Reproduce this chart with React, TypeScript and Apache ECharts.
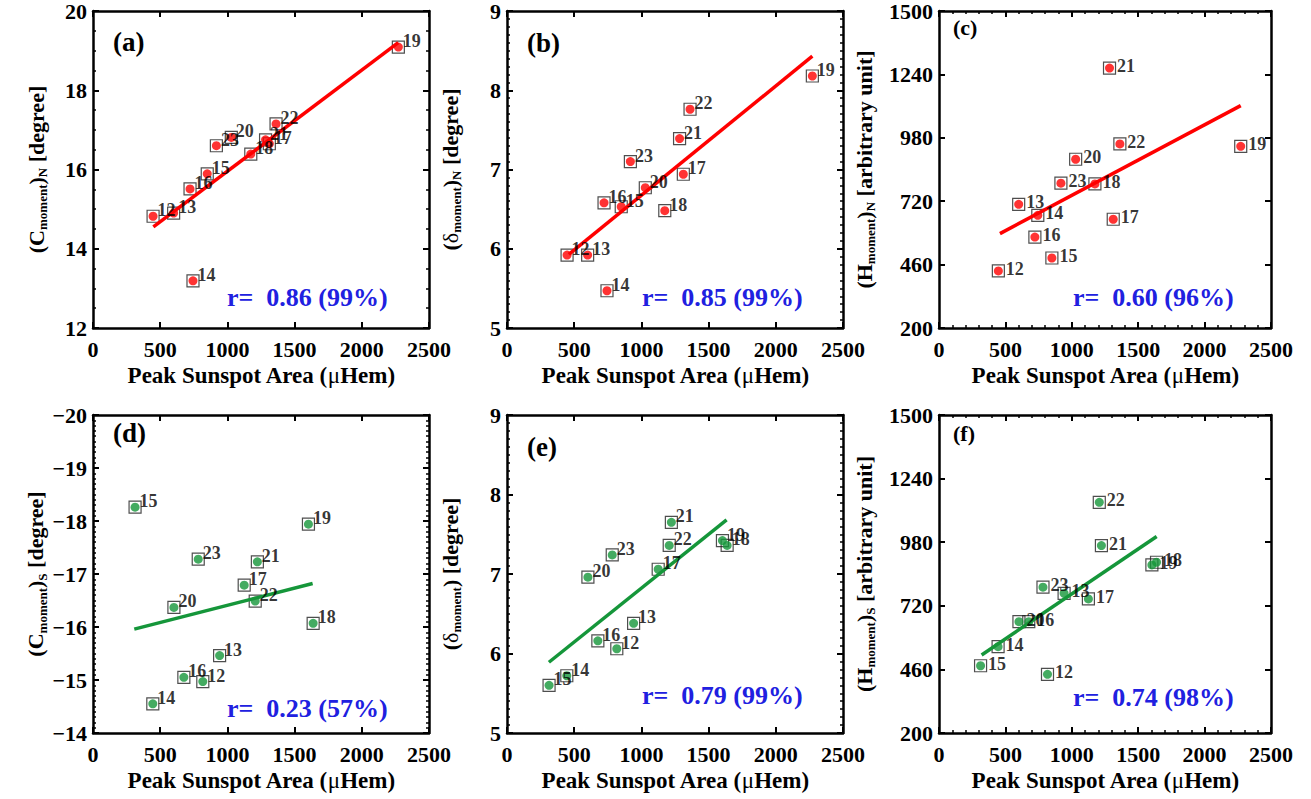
import React, { useEffect, useRef } from "react";
import * as echarts from "echarts";

// ---------- data ----------
const cycles = [12, 13, 14, 15, 16, 17, 18, 19, 20, 21, 22, 23];

// peak sunspot area (µHem), northern / southern hemisphere
const areaN = [447, 600, 744, 850, 722, 1312, 1174, 2272, 1029, 1284, 1362, 918];
const areaS = [817, 942, 445, 313, 676, 1125, 1638, 1603, 602, 1223, 1207, 783];

const cMomentN = [14.82, 14.9, 13.19, 15.89, 15.51, 16.65, 16.39, 19.09, 16.81, 16.75, 17.15, 16.6];
const deltaMomentN = [5.92, 5.92, 5.47, 6.53, 6.58, 6.94, 6.48, 8.18, 6.77, 7.39, 7.76, 7.1];
const hMomentN = [434, 707, 662, 487, 573, 646, 791, 945, 892, 1266, 955, 794];

const cMomentS = [-14.97, -15.46, -14.55, -18.26, -15.05, -16.79, -16.07, -17.94, -16.37, -17.23, -16.49, -17.28];
const deltaMomentS = [6.06, 6.38, 5.72, 5.6, 6.16, 7.06, 7.36, 7.42, 6.96, 7.65, 7.36, 7.24];
const hMomentS = [440, 771, 553, 475, 655, 748, 898, 887, 655, 966, 1143, 796];

// fitted straight lines (end points)
const fitCN = [[449, 14.55], [2271, 19.2]];
const fitDeltaN = [[460, 5.93], [2272, 8.43]];
const fitHN = [[459, 587], [2272, 1112]];
const fitCS = [[307, -15.96], [1634, -16.82]];
const fitDeltaS = [[312, 5.89], [1634, 7.68]];
const fitHS = [[321, 519], [1639, 1003]];

const rTexts = [
  "r=\u00a0\u00a00.86 (99%)",
  "r=\u00a0\u00a00.85 (99%)",
  "r=\u00a0\u00a00.60 (96%)",
  "r=\u00a0\u00a00.23 (57%)",
  "r=\u00a0\u00a00.79 (99%)",
  "r=\u00a0\u00a00.74 (98%)",
];
const panelTags = ["(a)", "(b)", "(c)", "(d)", "(e)", "(f)"];
const hTicks = [200, 460, 720, 980, 1240, 1500];

// ---------- styling / layout ----------
const FONT = "Liberation Serif";
const RED = "#ff0000";
const GREEN = "#15963a";
const BLUE = "#2020e0";

const panels = [
  { area: areaN, val: cMomentN, fit: fitCN, color: RED, left: 93, top: 10, width: 336,
    min: 12, max: 20, interval: 2, yMinor: 4, title: "{b|(C}{s|moment}{b|)}{s|N}{b| [degree]}", gap: 44,
    labDist: 0, labOff: [0, -6], tagX: 113, tagY: 42, tagSize: 27, rX: 227, rY: 297 },
  { area: areaN, val: deltaMomentN, fit: fitDeltaN, color: RED, left: 507, top: 10, width: 336,
    min: 5, max: 9, interval: 1, yMinor: 10, title: "{b|(}{g|δ}{s|moment}{b|)}{s|N}{b| [degree]}", gap: 44,
    labDist: 0, labOff: [0, -6], tagX: 527, tagY: 43, tagSize: 27, rX: 642, rY: 297 },
  { area: areaN, val: hMomentN, fit: fitHN, color: RED, left: 939, top: 10, width: 332,
    min: 200, max: 1500, custom: hTicks, title: "{b|(H}{s|moment}{b|)}{s|N}{b| [arbitrary unit]}", gap: 62,
    xMinor: true, labDist: 3, labOff: [0, -2], tagX: 953, tagY: 27, tagSize: 22, rX: 1073, rY: 297 },
  { area: areaS, val: cMomentS, fit: fitCS, color: GREEN, left: 93, top: 415, width: 336,
    min: -20, max: -14, interval: 1, yMinor: 10, inverse: true, title: "{b|(C}{s|moment}{b|)}{s|S}{b| [degree]}", gap: 44,
    labDist: 0, labOff: [0, -6], tagX: 113, tagY: 433, tagSize: 27, rX: 227, rY: 708 },
  { area: areaS, val: deltaMomentS, fit: fitDeltaS, color: GREEN, left: 507, top: 415, width: 336,
    min: 5, max: 9, interval: 1, yMinor: 10, title: "{b|(}{g|δ}{s|moment}{b|) [degree]}", gap: 44,
    labDist: 0, labOff: [0, -6], tagX: 527, tagY: 447, tagSize: 27, rX: 642, rY: 695 },
  { area: areaS, val: hMomentS, fit: fitHS, color: GREEN, left: 939, top: 415, width: 332,
    min: 200, max: 1500, custom: hTicks, title: "{b|(H}{s|moment}{b|)}{s|S}{b| [arbitrary unit]}", gap: 62,
    xMinor: true, labDist: 3, labOff: [0, -2], tagX: 953, tagY: 433, tagSize: 22, rX: 1073, rY: 697 },
];

const PANEL_H = 318;

const numFmt = (v: number) => (v < 0 ? "\u2212" + Math.abs(v) : String(v));

function buildOption() {
  const grid: any[] = [];
  const xAxis: any[] = [];
  const yAxis: any[] = [];
  const series: any[] = [];
  const graphic: any[] = [];

  const line = { show: true, onZero: false, lineStyle: { color: "#000", width: 2.5 } };
  const tick = { show: true, inside: true, length: 6, lineStyle: { color: "#000", width: 2 } };

  panels.forEach((p, i) => {
    grid.push({ left: p.left, top: p.top, width: p.width, height: PANEL_H, containLabel: false });

    const xBase = {
      type: "value", gridIndex: i, min: 0, max: 2500, interval: 500,
      splitLine: { show: false }, axisLine: line, axisTick: tick,
      minorTick: { show: !!p.xMinor, splitNumber: 5, length: 3, lineStyle: { color: "#000", width: 1.5 } },
    };
    xAxis.push({
      ...xBase, position: "bottom",
      axisLabel: { color: "#000", fontFamily: FONT, fontWeight: "bold", fontSize: 22, margin: 10, formatter: numFmt },
      name: "Peak Sunspot Area ({mu|\u03bc}{t|Hem)}", nameLocation: "middle", nameGap: 36,
      nameTextStyle: { color: "#000", fontFamily: FONT, fontWeight: "bold", fontSize: 23,
        rich: {
          mu: { fontFamily: FONT, fontWeight: "normal", fontSize: 23, color: "#000" },
          t: { fontFamily: FONT, fontWeight: "bold", fontSize: 23, color: "#000" },
        } },
    });
    xAxis.push({ ...xBase, position: "top", axisLabel: { show: false } });

    const yBase: any = {
      type: "value", gridIndex: i, min: p.min, max: p.max, inverse: !!p.inverse,
      splitLine: { show: false }, axisLine: line,
      axisTick: p.custom ? { ...tick, customValues: p.custom } : tick,
      minorTick: { show: !!p.yMinor, splitNumber: p.yMinor || 5, length: 3, lineStyle: { color: "#000", width: 1.5 } },
    };
    if (p.interval) yBase.interval = p.interval;
    yAxis.push({
      ...yBase, position: "left",
      axisLabel: { color: "#000", fontFamily: FONT, fontWeight: "bold", fontSize: 22, margin: 6,
        formatter: numFmt, ...(p.custom ? { customValues: p.custom } : {}) },
      name: p.title, nameLocation: "middle", nameRotate: 90, nameGap: p.gap,
      nameTextStyle: {
        color: "#000", fontFamily: FONT, fontWeight: "bold", fontSize: 22,
        rich: {
          b: { fontFamily: FONT, fontWeight: "bold", fontSize: 22, lineHeight: 26, color: "#000", verticalAlign: "middle" },
          g: { fontFamily: FONT, fontWeight: "normal", fontSize: 22, lineHeight: 26, color: "#000", verticalAlign: "middle" },
          s: { fontFamily: FONT, fontWeight: "bold", fontSize: 13, lineHeight: 13, color: "#000", verticalAlign: "bottom" },
        },
      },
    });
    yAxis.push({ ...yBase, position: "right", axisLabel: { show: false } });

    const pts = cycles.map((c, k) => [p.area[k], p.val[k], c]);

    series.push({
      type: "scatter", xAxisIndex: 2 * i, yAxisIndex: 2 * i, data: pts, symbol: "rect", symbolSize: 12,
      itemStyle: { color: "rgba(0,0,0,0)", borderColor: "#222", borderWidth: 1.2 }, silent: true, z: 2,
    });
    series.push({
      type: "line", xAxisIndex: 2 * i, yAxisIndex: 2 * i, data: p.fit, showSymbol: false, symbol: "none",
      lineStyle: { color: p.color, width: 3.5 }, silent: true, z: 3,
    });
    series.push({
      type: "scatter", xAxisIndex: 2 * i, yAxisIndex: 2 * i, data: pts, symbol: "circle", symbolSize: 9,
      itemStyle: { color: p.color }, z: 4,
      label: {
        show: true, position: "right", distance: p.labDist, offset: p.labOff,
        formatter: (q: any) => String(q.value[2]),
        color: "#000", fontFamily: FONT, fontWeight: "bold", fontSize: 18,
      },
    });

    graphic.push({
      type: "text", x: p.tagX, y: p.tagY, z: 10,
      style: { text: panelTags[i], fill: "#000", fontFamily: FONT, fontWeight: "bold", fontSize: p.tagSize, textVerticalAlign: "middle" },
    });
    graphic.push({
      type: "text", x: p.rX, y: p.rY, z: 10,
      style: { text: rTexts[i], fill: BLUE, fontFamily: FONT, fontWeight: "bold", fontSize: 26, textVerticalAlign: "middle" },
    });
  });

  return { animation: false, backgroundColor: "#fff", grid, xAxis, yAxis, series, graphic };
}

export default function App() {
  const ref = useRef<HTMLDivElement>(null);
  useEffect(() => {
    if (!ref.current) return;
    const chart = echarts.init(ref.current, undefined, { renderer: "svg" });
    chart.setOption(buildOption() as any);
    return () => chart.dispose();
  }, []);
  return (
    <div
      ref={ref}
      style={{ position: "fixed", left: 0, top: 0, width: 1311, height: 799, background: "#fff" }}
    />
  );
}
